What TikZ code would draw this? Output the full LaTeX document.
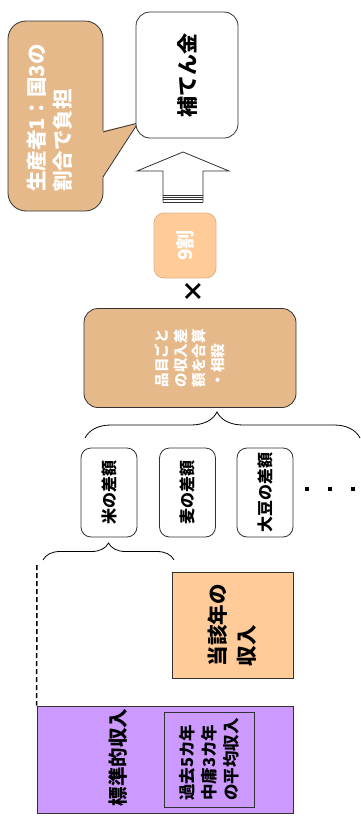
\documentclass[tikz,border=0pt]{standalone}
\usepackage{fontspec}
\setmainfont{Noto Sans CJK JP}
\usepackage{xcolor}
\usetikzlibrary{decorations.pathreplacing}
\definecolor{tanbox}{RGB}{230,185,138}
\definecolor{peachbox}{RGB}{255,204,153}
\definecolor{lilacbox}{RGB}{204,153,255}
\definecolor{edgegray}{RGB}{50,50,50}
\newcommand{\fsz}[2]{\fontsize{#1}{#2}\selectfont\bfseries}

\begin{document}
\begin{tikzpicture}[x=1pt,y=-1pt,line width=0.8pt,
	rbox/.style={draw=edgegray,rounded corners=14pt,rotate=90,inner sep=0pt,align=left},
	sbox/.style={draw=edgegray,rotate=90,inner sep=0pt,align=left},
	lbl/.style={rotate=90,inner sep=0pt,align=left},
	dotsq/.style={fill=black,minimum size=3.5pt,inner sep=0pt}]
	\useasboundingbox (0,0) rectangle (361,817);

	% Burden share bubble and compensation
	\draw[edgegray,fill=tanbox,rounded corners=18pt] (8,21) rectangle (103,211);
	\fill[tanbox] (102,131) -- (138,123) -- (102,178) -- cycle;
	\draw[edgegray] (103,132) -- (138,123) -- (103,177);
	\node (share) [lbl,text=white,font=\fsz{20.5}{26}] at (49.5,118) {生産者1：国3の\\割合で負担};
	\node (hoten) [rbox,fill=white,minimum width=126,minimum height=102,font=\fsz{21}{24}] at (187,75) {補てん金};

	% Block arrow
	\draw[edgegray,fill=white] (163,202) -- (163,171) -- (137,171) -- (183,152) -- (229,171) -- (203,171) -- (203,202);
	\draw[edgegray] (163,195) -- (203,195);
	\draw[edgegray] (163,197.3) -- (203,197.3);
	\draw[edgegray] (163,199.7) -- (203,199.7);
	\draw[edgegray] (163,202) -- (203,202);

	% Rate and sum
	\node (wari) [rbox,fill=peachbox,draw=brown!60,rounded corners=10pt,minimum width=65,minimum height=62,text=white,font=\fsz{19}{20}] at (185,245.5) {9割};
	\node (times) [lbl,font=\fsz{24}{24}] at (193.5,291.5) {×};
	\node (sum) [rbox,fill=tanbox,minimum width=99,minimum height=212,text=white,font=\fsz{14.5}{18.5}] at (190,358) {品目ごと\\の収入差\\額を合算\\・相殺};

	% Brace over the items
	\coordinate (braceL) at (85,438);
	\coordinate (braceR) at (360,438);
	\draw[decorate,decoration={brace,amplitude=26pt,aspect=0.48}] (braceL) -- (braceR);

	% Items
	\node (rice) [rbox,fill=white,rounded corners=10pt,minimum width=89,minimum height=56,font=\fsz{16}{18}] at (109,492.5) {米の差額};
	\node (wheat) [rbox,fill=white,rounded corners=10pt,minimum width=89,minimum height=56,font=\fsz{16}{18}] at (187.5,492.5) {麦の差額};
	\node (soy) [rbox,fill=white,rounded corners=10pt,minimum width=89,minimum height=56,font=\fsz{16}{18}] at (265,492.5) {大豆の差額};
	\node (dot1) [dotsq] at (307,489) {};
	\node (dot2) [dotsq] at (330,489) {};
	\node (dot3) [dotsq] at (353,489) {};

	% Rice income difference
	\coordinate (riceL) at (43,560);
	\coordinate (riceR) at (174,560);
	\draw[decorate,decoration={brace,amplitude=17pt}] (riceL) -- (riceR);
	\node (thisyr) [sbox,fill=peachbox,minimum width=106,minimum height=121,font=\fsz{20.5}{29}] at (232.5,625) {当該年の\\収入};
	\node (std) [sbox,fill=lilacbox,minimum width=107,minimum height=256] at (165,759.5) {};
	\node (stdlbl) [lbl,font=\fsz{19.5}{22}] at (118,757.5) {標準的収入};
	\node (avg) [sbox,minimum width=95,minimum height=90,font=\fsz{16.5}{22}] at (209,759.5) {過去5カ年\\中庸3カ年\\の平均収入};
	\coordinate (dashtop) at (37,565);
	\draw[line width=1.5pt,dash pattern=on 5pt off 3pt] (dashtop) -- (std.north east);
\end{tikzpicture}
\end{document}
